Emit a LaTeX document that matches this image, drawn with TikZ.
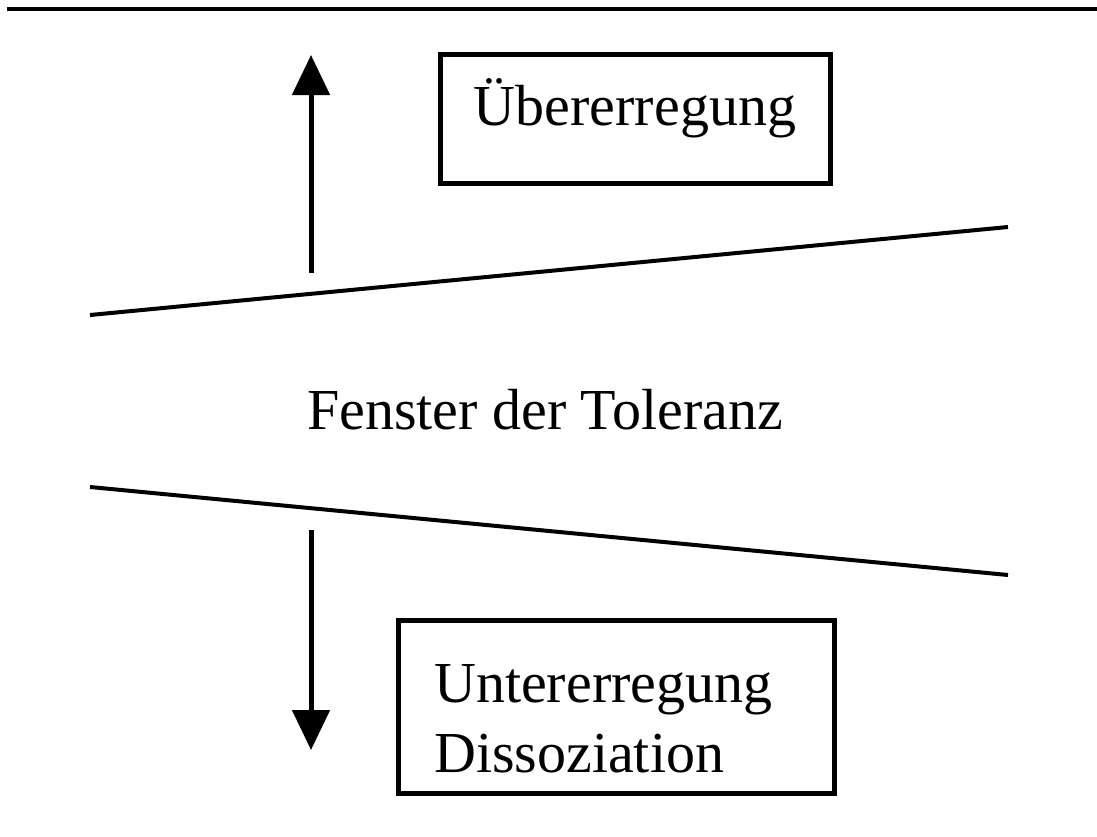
\documentclass[tikz,border=0pt]{standalone}
\usepackage{fontspec}
\setmainfont{Liberation Serif}
\usetikzlibrary{arrows.meta}
\tikzset{
  boxstyle/.style={draw=black, line width=5pt, inner sep=0pt},
  lbl/.style={inner sep=0pt, font=\fontsize{58}{70}\selectfont, text=black},
  edge/.style={line width=4pt, black},
  arr/.style={line width=5pt, black, -{Triangle[length=40pt,width=37pt]}},
}
\begin{document}
\begin{tikzpicture}[x=1pt,y=-1pt]
\useasboundingbox (0,0) rectangle (1097,836);
% top rule
\coordinate (r1) at (7,9);
\coordinate (r2) at (1097,9);
\draw[line width=4.5pt] (r1) -- (r2);
% boxes
\node[boxstyle, minimum width=390pt, minimum height=129pt] (topbox) at (635,118.5) {};
\node[lbl, anchor=base] (toptext) at (635,125) {Übererregung};
\node[boxstyle, minimum width=436pt, minimum height=173pt] (botbox) at (616,706.5) {};
\node[lbl, anchor=base west] (bottext1) at (434,702) {Untererregung};
\node[lbl, anchor=base west] (bottext2) at (434,772) {Dissoziation};
% middle text
\node[lbl, anchor=base] (mid) at (545,429) {Fenster der Toleranz};
% diagonal lines
\coordinate (u1) at (90,315);
\coordinate (u2) at (1008,227);
\coordinate (l1) at (90,487);
\coordinate (l2) at (1008,575);
\draw[edge] (u1) -- (u2);
\draw[edge] (l1) -- (l2);
% arrows
\coordinate (ups) at (311,273);
\coordinate (upe) at (311,55);
\coordinate (dns) at (311,530);
\coordinate (dne) at (311,750);
\draw[arr] (ups) -- (upe);
\draw[arr] (dns) -- (dne);
\end{tikzpicture}
\end{document}
